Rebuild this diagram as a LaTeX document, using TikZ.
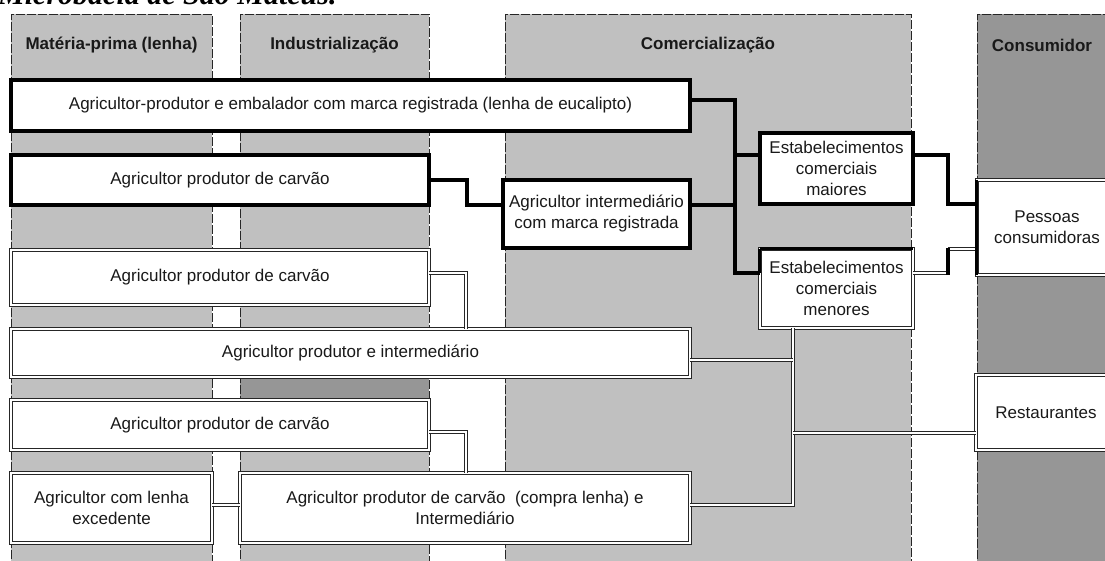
\documentclass[tikz,border=0pt]{standalone}
\usepackage{fontspec}
\usetikzlibrary{backgrounds}
\newfontfamily\arial{Liberation Sans}
\newfontfamily\tnr{Liberation Serif}
\definecolor{lgray}{HTML}{C0C0C0}
\definecolor{dgray}{HTML}{969696}
\tikzset{
  coledge/.style={draw=black!85, line width=0.6pt, dash pattern=on 9pt off 2pt},
  hdr/.style={font=\arial\bfseries\fontsize{17}{21}\selectfont, text=black!90},
  boxbase/.style={fill=white, inner sep=0pt, align=center, text=black!90,
    font=\arial\fontsize{17}{21}\selectfont},
  thkbox/.style={boxbase, draw=black, line width=3.8pt},
  dblbox/.style={boxbase, draw=black!85, line width=0.75pt, double=white, double distance=1.8pt},
  thk/.style={draw=black, line width=3.4pt},
  dbl/.style={draw=black!85, line width=0.75pt, double=white, double distance=1.8pt},
}
\begin{document}
\begin{tikzpicture}[x=1pt,y=-1pt]
\useasboundingbox (0,0) rectangle (1105,560);
% boxes
\node[thkbox, minimum width=679pt, minimum height=51pt] (b1) at (350.5,105.5)
  {Agricultor-produtor e embalador com marca registrada (lenha de eucalipto)};
\node[thkbox, minimum width=418pt, minimum height=50pt] (b2) at (220,180)
  {Agricultor produtor de carvão};
\node[thkbox, minimum width=187pt, minimum height=68pt] (inter) at (596.5,214)
  {Agricultor intermediário\\com marca registrada};
\node[thkbox, minimum width=153pt, minimum height=71pt] (maio) at (836.5,168.5)
  {Estabelecimentos\\comerciais\\maiores};
\node[dblbox, minimum width=153pt, minimum height=79pt] (meno) at (836.5,288.5)
  {Estabelecimentos\\comerciais\\menores};
\node[dblbox, minimum width=140pt, minimum height=95pt, text width=130pt] (pess) at (1047,227.5)
  {Pessoas\\consumidoras};
\node[dblbox, minimum width=418pt, minimum height=55pt] (b3) at (220,277.5)
  {Agricultor produtor de carvão};
\node[dblbox, minimum width=679pt, minimum height=48pt] (b4) at (350.5,353)
  {Agricultor produtor e intermediário};
\node[dblbox, minimum width=418pt, minimum height=50pt] (b5) at (220,425)
  {Agricultor produtor de carvão};
\node[dblbox, minimum width=201pt, minimum height=70pt] (b6a) at (111.5,508)
  {Agricultor com lenha\\excedente};
\node[dblbox, minimum width=450pt, minimum height=70pt] (b6b) at (465,508)
  {Agricultor produtor de carvão\ \ (compra lenha) e\\Intermediário};
\node[dblbox, minimum width=140pt, minimum height=75pt, text width=130pt] (rest) at (1046,412.5)
  {Restaurantes};
% background: caption and columns
\begin{pgfonlayer}{background}
\node[anchor=base west, inner sep=0pt, font=\tnr\bfseries\itshape\fontsize{30}{32}\selectfont] (cap) at (-2,4) {Microbacia de São Mateus.};
\fill[lgray] (11,14) rectangle (212,570);
\fill[lgray] (240,14) rectangle (429,570);
\fill[lgray] (505,14) rectangle (911,570);
\fill[dgray] (977,14) rectangle (1115,570);
\fill[dgray] (240,377) rectangle (429,400);
\draw[coledge] (11,570) -- (11,14) -- (212,14) -- (212,570);
\draw[coledge] (240,570) -- (240,14) -- (429,14) -- (429,570);
\draw[coledge] (505,570) -- (505,14) -- (911,14) -- (911,570);
\draw[coledge] (977,570) -- (977,14) -- (1115,14);
\node[hdr] (h1) at (111.5,45) {Matéria-prima (lenha)};
\node[hdr] (h2) at (334.5,45) {Industrialização};
\node[hdr] (h3) at (708,45) {Comercialização};
\node[hdr] (h4) at (1042,45) {Consumidor};
\end{pgfonlayer}
% junction coordinates
\coordinate (v1top) at (735,100);
\coordinate (v1mid) at (735,155);
\coordinate (v1int) at (735,205);
\coordinate (v1bot) at (735,273);
\coordinate (j1) at (467,205);
\coordinate (jp1) at (948,155);
\coordinate (jp2) at (948,204);
\coordinate (jq1) at (948,273);
\coordinate (jq2) at (948,249);
\coordinate (jb3) at (466,273);
\coordinate (jb5) at (466,432);
\coordinate (jb6) at (226,505);
\coordinate (tr4) at (793,360);
\coordinate (trr) at (793,433);
\coordinate (trb) at (793,505);
% thick connectors
\draw[thk] (b1.east |- v1top) -- (v1top) -- (v1bot) -- (meno.west |- v1bot);
\draw[thk] (v1mid) -- (maio.west |- v1mid);
\draw[thk] (inter.east |- v1int) -- (v1int);
\draw[thk] (b2.east) -| (j1) -- (inter.west |- j1);
\draw[thk] (maio.east |- jp1) -- (jp1) -- (jp2) -- (pess.west |- jp2);
% double connectors
\draw[dbl] (meno.east |- jq1) -- (jq1);
\draw[dbl] (jq2) -- (pess.west |- jq2);
\draw[thk] ([yshift=1.5pt]jq2) -- ([yshift=-1.5pt]jq1);
\draw[dbl] (b3.east |- jb3) -- (jb3) -- (jb3 |- b4.north);
\draw[dbl] (b5.east |- jb5) -- (jb5) -- (jb5 |- b6b.north);
\draw[dbl] (b6a.east |- jb6) -- (b6b.west |- jb6);
\draw[dbl] (meno.south -| trb) -- (trb) -- (b6b.east |- trb);
\draw[dbl] (b4.east |- tr4) -- (tr4);
\draw[dbl] (trr) -- (rest.west |- trr);
% thick accents on box edges
\draw[thk] (meno.north west) -- (meno.north east);
\draw[thk] (meno.north west) -- (meno.west |- v1bot);
\draw[thk] (pess.north west) -- (pess.south west);
\end{tikzpicture}
\end{document}
